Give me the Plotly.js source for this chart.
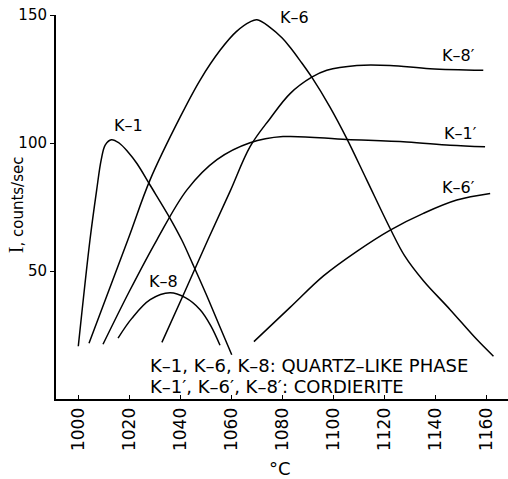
<!DOCTYPE html>
<html><head><meta charset="utf-8">
<script src="https://cdn.plot.ly/plotly-3.0.1.min.js"></script>
<style>body{margin:0;background:#fff}#c{width:508px;height:479px}</style>
</head><body><div id="c"></div>
<script>
// Curve data (temperature °C, intensity counts/sec)
const k1x = [1000, 1004.6, 1007.2, 1009, 1010.6, 1013, 1016, 1019.5, 1023, 1028.2, 1036, 1040.6, 1045, 1050, 1055, 1060.2];
const k1y = [20.6, 62.3, 81.6, 93.5, 99.3, 101.3, 100, 96.5, 92, 83.5, 70.6, 62.1, 52.5, 41.3, 29.5, 17.3];
const k6x = [1004.2, 1019.5, 1028.2, 1040, 1047.8, 1055.7, 1062, 1067.4, 1070.1, 1075.2, 1080, 1083.1, 1087, 1091.6, 1098.7, 1105.3, 1113.2, 1122.4, 1128, 1135.4, 1145.9, 1156.4, 1162.9];
const k6y = [21.8, 62.3, 85.7, 110.2, 124.6, 136.3, 143.5, 147.3, 148.1, 145.2, 141, 137.4, 132.2, 125.7, 114.1, 101.8, 85.5, 66.5, 56, 46.2, 34.9, 23.2, 16.7];
const k8x = [1015.6, 1021, 1028.2, 1036, 1042, 1047.8, 1052, 1055.6];
const k8y = [23.8, 31.5, 38.8, 41.5, 39.6, 34.9, 28.6, 21];
const k1px = [1009.7, 1020, 1030.9, 1042.7, 1054.4, 1067.4, 1080.3, 1105.3, 1128.9, 1145.9, 1159.6];
const k1py = [21.4, 42, 62.3, 81.8, 93.5, 100.1, 102.5, 101.4, 100.4, 99.1, 98.5];
const k6px = [1068.9, 1083.1, 1096.2, 1109.3, 1122.4, 1135.4, 1148.5, 1161.6];
const k6py = [22.4, 35.8, 48.1, 57.7, 66.0, 72.5, 77.7, 80.3];
const k8px = [1032.8, 1041.9, 1050.9, 1059.5, 1067.4, 1075.2, 1083.1, 1091.6, 1097.5, 1109.3, 1122.3, 1138, 1158.9];
const k8py = [22.1, 42.2, 62.3, 81, 98.6, 109.5, 119.3, 125.7, 128.4, 130.3, 130.3, 129, 128.4];

// Curve labels
const labelText = ["K–1", "K–6", "K–8", "K–1′", "K–6′", "K–8′"];
const labelX = [1019.6, 1084.8, 1033.3, 1149.8, 1149.3, 1149.3];
const labelY = [106.7, 149, 46, 103.6, 82.6, 134];

// Axis ticks
const xTicks = [1000, 1020, 1040, 1060, 1080, 1100, 1120, 1140, 1160];
const yTicks = [50, 100, 150];

const noteLines = ["K–1, K–6, K–8: QUARTZ–LIKE PHASE", "K–1′, K–6′, K–8′: CORDIERITE"];

const FONT = "DejaVu Sans";
const line = {color: "#000", width: 1.5, shape: "spline", smoothing: 1};
const series = [[k1x,k1y],[k6x,k6y],[k8x,k8y],[k1px,k1py],[k6px,k6py],[k8px,k8py]];
const traces = series.map(s => ({x: s[0], y: s[1], mode: "lines", line: line, hoverinfo: "skip"}));

const ann = labelText.map((t,i) => ({text: t, x: labelX[i], y: labelY[i], xref: "x", yref: "y",
  showarrow: false, font: {family: FONT, size: 16, color: "#000"}}));
noteLines.forEach((t,i) => ann.push({text: t, xref: "paper", yref: "paper", x: (148-56)/452, y: (399.5-(366+21*i))/384.5,
  xanchor: "left", yanchor: "middle", showarrow: false, font: {family: FONT, size: 18, color: "#000"}}));
ann.push({text: "°C", xref: "paper", yref: "paper", x: (280-56)/452, y: -(469-399.5)/384.5, xanchor: "center", yanchor: "middle",
  showarrow: false, font: {family: FONT, size: 18, color: "#000"}});
ann.push({text: "<span style='font-family:Liberation Serif;font-size:20px'>I</span>, counts/sec", textangle: -90,
  xref: "paper", yref: "paper", x: (15.5-56)/452, y: (399.5-205)/384.5, xanchor: "center", yanchor: "middle",
  showarrow: false, font: {family: FONT, size: 15, color: "#000"}});

const layout = {
  width: 508, height: 479,
  margin: {l: 56, r: 0, t: 15, b: 80, pad: 0},
  paper_bgcolor: "#fff", plot_bgcolor: "#fff",
  showlegend: false,
  xaxis: {range: [991.25, 1168.6], tickvals: xTicks, ticktext: xTicks.map(String), tickangle: -90,
    ticks: "inside", ticklen: 4, tickwidth: 1, tickcolor: "#000", showgrid: false, zeroline: false,
    showline: true, linecolor: "#000", linewidth: 2, tickfont: {family: FONT, size: 17, color: "#000"}},
  yaxis: {range: [0, 150], tickvals: yTicks, ticktext: yTicks.map(String),
    ticks: "outside", ticklen: 4, tickwidth: 1, tickcolor: "#000", showgrid: false, zeroline: false,
    showline: true, linecolor: "#000", linewidth: 2, tickfont: {family: FONT, size: 15, color: "#000"}},
  annotations: ann
};
Plotly.newPlot("c", traces, layout, {staticPlot: true, displayModeBar: false});
</script></body></html>
